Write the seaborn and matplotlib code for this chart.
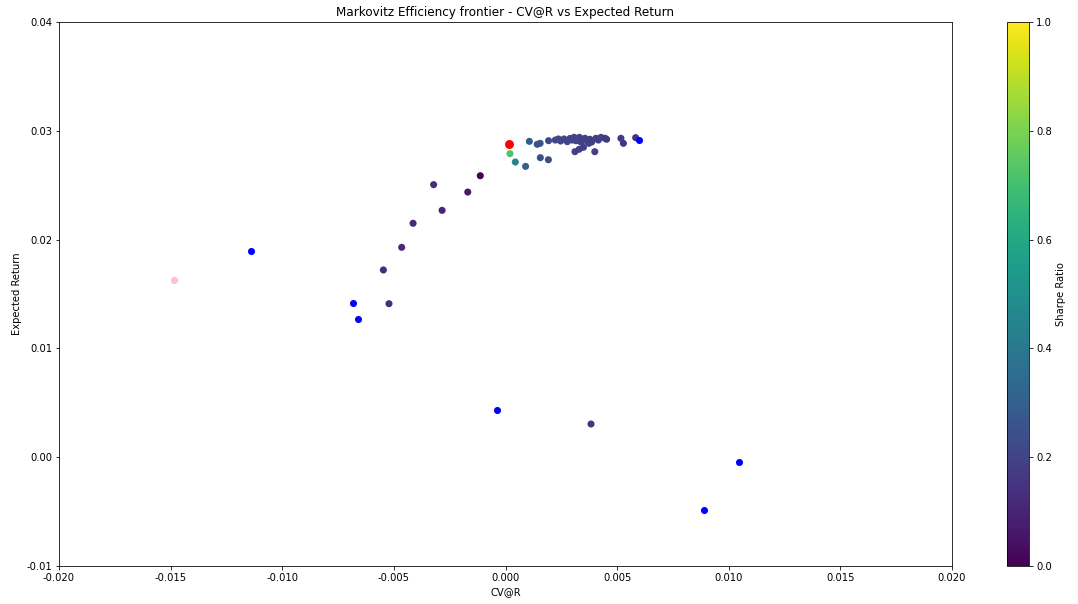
import seaborn as sns
import matplotlib.pyplot as plt
import matplotlib as mpl
import pandas as pd

plt.rcParams['axes.unicode_minus'] = False

# portfolios simulados (CV@R, retorno esperado, sharpe normalizado)
cvar = [-0.00113, -0.00169, -0.00322, -0.00284, -0.00414, -0.00465, -0.00547, -0.00522, 0.00383,
        0.00020, 0.00044, 0.00090, 0.00107, 0.00142, 0.00155, 0.00156, 0.00192, 0.00193,
        0.00223, 0.00237, 0.00247, 0.00262, 0.00277, 0.00289, 0.00299, 0.00307, 0.00316,
        0.00323, 0.00331, 0.00338, 0.00346, 0.00356, 0.00364, 0.00373, 0.00378, 0.00386,
        0.00405, 0.00416, 0.00428, 0.00446, 0.00453, 0.00311, 0.00330, 0.00349, 0.00400,
        0.00517, 0.00528, 0.00583, 0.00017]
retorno = [0.02587, 0.02437, 0.02505, 0.02269, 0.02150, 0.01929, 0.01721, 0.01411, 0.00305,
           0.02790, 0.02713, 0.02673, 0.02903, 0.02876, 0.02885, 0.02753, 0.02734, 0.02909,
           0.02915, 0.02925, 0.02906, 0.02925, 0.02900, 0.02930, 0.02915, 0.02940, 0.02909,
           0.02925, 0.02940, 0.02897, 0.02922, 0.02931, 0.02906, 0.02885, 0.02922, 0.02897,
           0.02931, 0.02915, 0.02940, 0.02931, 0.02922, 0.02808, 0.02830, 0.02848, 0.02808,
           0.02931, 0.02885, 0.02937, 0.02876]
sharpe = [0.00, 0.07, 0.13, 0.10, 0.11, 0.12, 0.13, 0.14, 0.15,
          0.72, 0.45, 0.30, 0.28, 0.25, 0.25, 0.24, 0.23, 0.22,
          0.22, 0.21, 0.21, 0.21, 0.20, 0.20, 0.20, 0.20, 0.20,
          0.20, 0.20, 0.19, 0.19, 0.19, 0.19, 0.19, 0.19, 0.18,
          0.18, 0.18, 0.18, 0.17, 0.17, 0.19, 0.19, 0.18, 0.18,
          0.16, 0.15, 0.15, 1.00]

# ativos individuais
ativos_cvar = [-0.01139, -0.00682, -0.00659, -0.00038, 0.01046, 0.00889, 0.00600]
ativos_ret = [0.01892, 0.01414, 0.01267, 0.00434, -0.00044, -0.00485, 0.02918]

# minimo CV@R e maximo sharpe
min_cvar = [-0.01484]
min_ret = [0.01626]
max_sharpe_cvar = [0.00017]
max_sharpe_ret = [0.02876]

df = pd.DataFrame({'CV@R': cvar, 'Retorno': retorno, 'Sharpe': sharpe})

fig = plt.figure(figsize=(1078 / 72, 604 / 72), dpi=72)
ax = fig.add_axes([59 / 1078, 38 / 604, 893 / 1078, 544 / 604])
cax = fig.add_axes([1007 / 1078, 38 / 604, 22 / 1078, 544 / 604])

sns.scatterplot(data=df, x='CV@R', y='Retorno', hue='Sharpe', palette='viridis',
                hue_norm=(0, 1), legend=False, s=50, linewidth=0, ax=ax)
ax.scatter(ativos_cvar, ativos_ret, color='blue', s=50, linewidths=0)
ax.scatter(min_cvar, min_ret, color='pink', s=50, linewidths=0)
ax.scatter(max_sharpe_cvar, max_sharpe_ret, color='red', s=80, linewidths=0)

ax.set_xlim(-0.02, 0.02)
ax.set_ylim(-0.01, 0.04)
ax.set_title("Markovitz Efficiency frontier - CV@R vs Expected Return")
ax.set_xlabel("CV@R")
ax.set_ylabel("Expected Return")

sm = mpl.cm.ScalarMappable(norm=mpl.colors.Normalize(0, 1), cmap='viridis')
cb = fig.colorbar(sm, cax=cax)
cb.set_label("Sharpe Ratio")

fig.savefig('out.png', dpi=72)
